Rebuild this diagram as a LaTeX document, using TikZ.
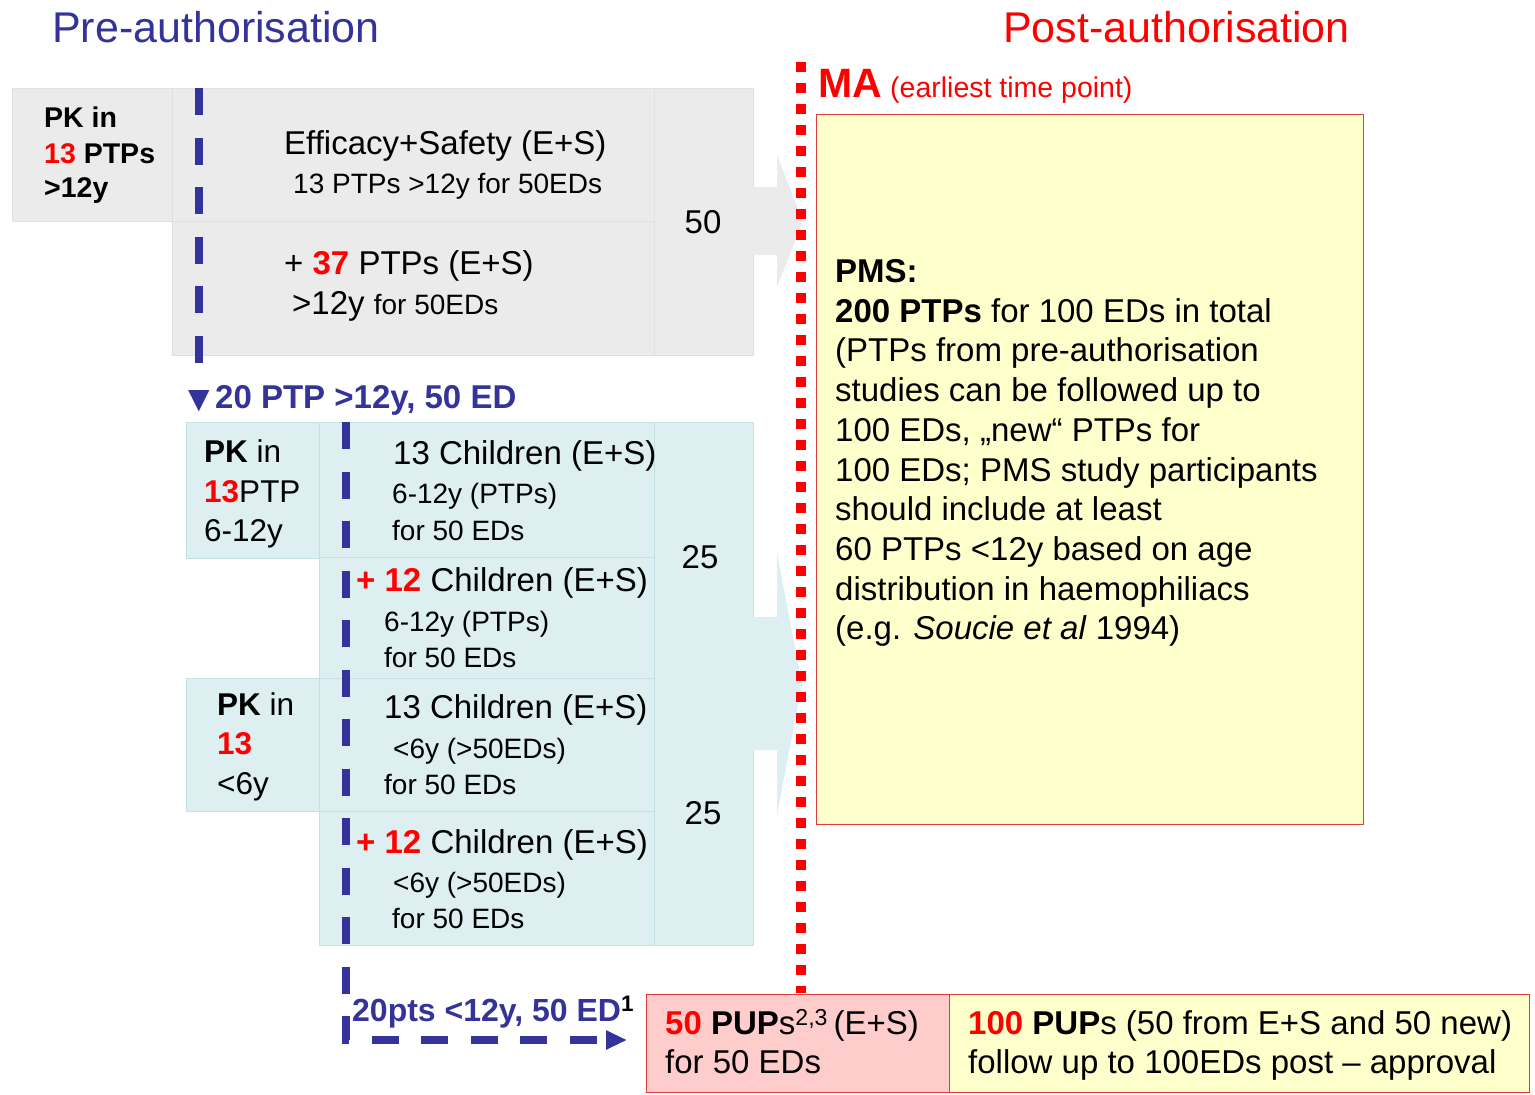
\documentclass[tikz,border=0pt]{standalone}
\usepackage{fontspec}
\setmainfont{Liberation Sans}
\newfontfamily\symfont{DejaVu Sans}
\usepackage{xcolor}
\usetikzlibrary{arrows.meta,backgrounds}

\definecolor{prefill}{HTML}{EBEBEB}
\definecolor{preline}{HTML}{DCE2E2}
\definecolor{kidfill}{HTML}{DDEFF1}
\definecolor{kidline}{HTML}{C4E2E6}
\definecolor{pmsfill}{HTML}{FFFFCC}
\definecolor{pupfill}{HTML}{FFCCCC}
\definecolor{maline}{HTML}{E03C3C}
\definecolor{preblue}{HTML}{333399}
\definecolor{mared}{HTML}{FF0000}

\newcommand\sz[2]{\fontsize{#1}{#2}\selectfont}
\newcommand\hi[1]{\textcolor{mared}{\textbf{#1}}}

\tikzset{
  cell/.style={inner sep=0pt, anchor=north west, line width=1pt},
  precell/.style={cell, fill=prefill, draw=preline},
  kidcell/.style={cell, fill=kidfill, draw=kidline},
  txt/.style={inner sep=0pt, anchor=base west},
  bigtxt/.style={font=\sz{33}{39}},
  smalltxt/.style={font=\sz{28}{34}},
  pktxt/.style={font=\sz{31.5}{38}},
  bluedash/.style={draw=preblue, line width=7.5pt, dash pattern=on 27pt off 22.5pt},
  madots/.style={draw=mared, line width=10pt, dash pattern=on 10pt off 11pt}
}

\begin{document}
\begin{tikzpicture}[x=1pt, y=-1pt]
\useasboundingbox (0,0) rectangle (1535,1095);

\begin{scope}[on background layer]
% pre-authorisation, adults
\node (pk1) at (12,88) [precell, minimum width=160pt, minimum height=133pt] {};
\node (es1) at (172,88) [precell, minimum width=482pt, minimum height=133pt] {};
\node (es2) at (172,221) [precell, minimum width=482pt, minimum height=134pt] {};
\node (es50) at (654,88) [precell, minimum width=99pt, minimum height=267pt] {};
\fill[prefill] (752,187) -- (777,187) -- (777,155) -- (803,221) -- (777,287) -- (777,255) -- (752,255) -- cycle;

% pre-authorisation, children
\node (pk2) at (186,422) [kidcell, minimum width=133pt, minimum height=136pt] {};
\node (pk3) at (186,678) [kidcell, minimum width=133pt, minimum height=133pt] {};
\node (kid1) at (319,422) [kidcell, minimum width=335pt, minimum height=135pt] {};
\node (kid2) at (319,557) [kidcell, minimum width=335pt, minimum height=121pt] {};
\node (kid3) at (319,678) [kidcell, minimum width=335pt, minimum height=133pt] {};
\node (kid4) at (319,811) [kidcell, minimum width=335pt, minimum height=134pt] {};
\node (kid25) at (654,422) [kidcell, minimum width=99pt, minimum height=523pt] {};
\fill[kidfill] (752,617) -- (777,617) -- (777,553) -- (802,684) -- (777,815) -- (777,750) -- (752,750) -- cycle;

% post-authorisation
\node (pms) at (816,114) [cell, fill=pmsfill, draw=maline, minimum width=547pt, minimum height=710pt] {};
\end{scope}

\draw[madots] (801,62) -- (801,993);
\node (pup50) at (646,994) [cell, fill=pupfill, draw=maline, minimum width=303pt, minimum height=98pt] {};
\node (pup100) at (949,994) [cell, fill=pmsfill, draw=maline, minimum width=580pt, minimum height=98pt] {};

% time lines
\coordinate (split1) at (199,88);
\coordinate (split1end) at (199,364);
\coordinate (split2) at (346,422);
\coordinate (bend) at (346,1040);
\coordinate (pupin) at (627,1040);
\draw[bluedash] (split1) -- (split1end);
\draw[bluedash, -{Triangle[length=21pt, width=18pt]}] (split2) -- (bend) -- (pupin);

% titles
\node (pretitle) at (52,42) [txt, text=preblue, font=\sz{43}{50}] {Pre-authorisation};
\node (posttitle) at (1003,42) [txt, text=mared, font=\sz{43}{50}] {Post-authorisation};
\node (ma) at (818,97) [txt, text=mared, font=\sz{41}{48}\bfseries] {MA};
\node (maear) at (890,97) [txt, text=mared, font=\sz{28.5}{34}] {(earliest time point)};

% adults
\node (pk1a) at (44,127.5) [txt, font=\sz{28.5}{34}\bfseries] {PK in};
\node (pk1b) at (44,163.5) [txt, font=\sz{28.5}{34}\bfseries] {\textcolor{mared}{13} PTPs};
\node (pk1c) at (44,197.5) [txt, font=\sz{28.5}{34}\bfseries] {>12y};
\node (es1a) at (284,154.5) [txt, bigtxt] {Efficacy+Safety (E+S)};
\node (es1b) at (293,193) [txt, smalltxt] {13 PTPs >12y for 50EDs};
\node (es2a) at (284,274.5) [txt, bigtxt] {+ \hi{37} PTPs (E+S)};
\node (es2b) at (292,314) [txt, bigtxt] {>12y {\sz{28}{34}for 50EDs}};
\node (n50) at (703,233.5) [inner sep=0pt, anchor=base, bigtxt] {50};

\node (ptp20) at (188,408.5) [txt, text=preblue, font=\sz{33}{38}\bfseries] {{\symfont\sz{28}{32}▼}\,20 PTP >12y, 50 ED};

% children
\node (pk2a) at (204,462.5) [txt, pktxt] {\textbf{PK} in};
\node (pk2b) at (204,502.5) [txt, pktxt] {\hi{13}PTP};
\node (pk2c) at (204,541.5) [txt, pktxt] {6-12y};
\node (pk3a) at (217,715.5) [txt, pktxt] {\textbf{PK} in};
\node (pk3b) at (217,754.5) [txt, pktxt] {\hi{13}};
\node (pk3c) at (217,794.5) [txt, pktxt] {<6y};

\node (kid1a) at (393,464.5) [txt, bigtxt] {13 Children (E+S)};
\node (kid1b) at (392,503) [txt, smalltxt] {6-12y (PTPs)};
\node (kid1c) at (392,540) [txt, smalltxt] {for 50 EDs};
\node (kid2a) at (356,591.5) [txt, bigtxt] {\hi{+ 12} Children (E+S)};
\node (kid2b) at (384,631) [txt, smalltxt] {6-12y (PTPs)};
\node (kid2c) at (384,667) [txt, smalltxt] {for 50 EDs};
\node (kid3a) at (384,718.5) [txt, bigtxt] {13 Children (E+S)};
\node (kid3b) at (393,758) [txt, smalltxt] {<6y (>50EDs)};
\node (kid3c) at (384,794) [txt, smalltxt] {for 50 EDs};
\node (kid4a) at (356,853.5) [txt, bigtxt] {\hi{+ 12} Children (E+S)};
\node (kid4b) at (393,892) [txt, smalltxt] {<6y (>50EDs)};
\node (kid4c) at (392,928) [txt, smalltxt] {for 50 EDs};
\node (n25a) at (700,568.5) [inner sep=0pt, anchor=base, bigtxt] {25};
\node (n25b) at (703,824.5) [inner sep=0pt, anchor=base, bigtxt] {25};

\node (pts20) at (352,1021) [txt, text=preblue, font=\sz{32}{36}\bfseries] {20pts <12y, 50 ED{\color{black}\textsuperscript{1}}};

% post-authorisation study
\node (pms0) at (835,282.5) [txt, bigtxt] {\textbf{PMS:}};
\node (pms1) at (835,322.2) [txt, bigtxt] {\textbf{200 PTPs} for 100 EDs in total};
\node (pms2) at (835,361.9) [txt, bigtxt] {(PTPs from pre-authorisation};
\node (pms3) at (835,401.6) [txt, bigtxt] {studies can be followed up to};
\node (pms4) at (835,441.3) [txt, bigtxt] {100 EDs, „new“ PTPs for};
\node (pms5) at (835,481) [txt, bigtxt] {100 EDs; PMS study participants};
\node (pms6) at (835,520.7) [txt, bigtxt] {should include at least};
\node (pms7) at (835,560.4) [txt, bigtxt] {60 PTPs <12y based on age};
\node (pms8) at (835,600.1) [txt, bigtxt] {distribution in haemophiliacs};
\node (pms9) at (835,639.8) [txt, bigtxt] {(e.g. \textit{Soucie et al} 1994)};

\node (pup50a) at (665,1034.5) [txt, bigtxt] {\hi{50} \textbf{PUP}s\textsuperscript{2,3}\,(E+S)};
\node (pup50b) at (665,1073.5) [txt, bigtxt] {for 50 EDs};
\node (pup100a) at (968,1034.5) [txt, bigtxt] {\hi{100} \textbf{PUP}s (50 from E+S and 50 new)};
\node (pup100b) at (968,1073.5) [txt, bigtxt] {follow up to 100EDs post – approval};

\end{tikzpicture}
\end{document}
